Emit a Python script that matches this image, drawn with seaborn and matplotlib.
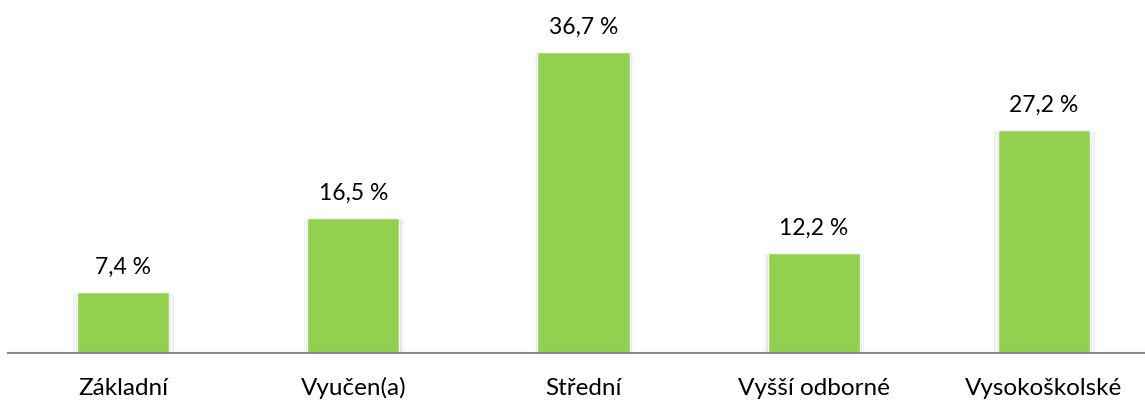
import matplotlib
matplotlib.use("Agg")
import matplotlib.pyplot as plt
import seaborn as sns
import pandas as pd

# data
categories = ['Základní', 'Vyučen(a)', 'Střední', 'Vyšší odborné', 'Vysokoškolské']
values = [7.4, 16.5, 36.7, 12.2, 27.2]
df = pd.DataFrame({'Category': categories, 'Value': values})

sns.set_style("white")
plt.rcParams['font.family'] = ['Lato', 'DejaVu Sans']

fig = plt.figure(figsize=(11.45, 4.01), dpi=100)
ax = fig.add_axes([8 / 1145, 48 / 401, 1151 / 1145, 344.4 / 401])

# soft shadow behind bars
sns.barplot(data=df, x='Category', y='Value', color='#ededed', width=0.44,
            saturation=1, ax=ax)
sns.barplot(data=df, x='Category', y='Value', color='#e0e0e0', width=0.42,
            saturation=1, ax=ax)
sns.barplot(data=df, x='Category', y='Value', color='#92D050', width=0.4,
            saturation=1, ax=ax)

ax.set_xlim(-0.5, 4.5)
ax.set_ylim(0, 42)
ax.set_xlabel('')
ax.set_ylabel('')
ax.set_yticks([])
ax.tick_params(axis='x', length=0, pad=30, labelsize=17.5, colors='black')
for lbl in ax.get_xticklabels():
    lbl.set_verticalalignment('baseline')

for s in ['top', 'right', 'left']:
    ax.spines[s].set_visible(False)
ax.spines['bottom'].set_color('#898989')
ax.spines['bottom'].set_linewidth(1.5)

for i, v in enumerate(values):
    ax.annotate(f"{v:.1f} %".replace('.', ','), (i, v), xytext=(0, 13),
                textcoords='offset points', ha='center', va='baseline',
                fontsize=16.5, color='black')

fig.savefig("out.png", dpi=100)
